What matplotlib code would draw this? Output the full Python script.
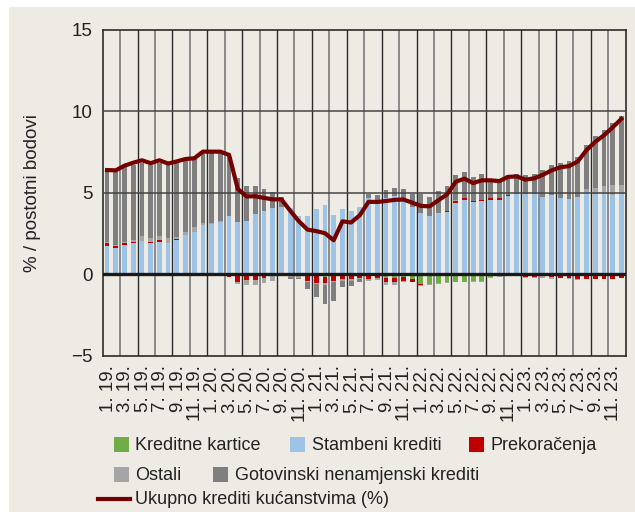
import numpy as np
import matplotlib
matplotlib.use("Agg")
import matplotlib.pyplot as plt
from matplotlib.patches import Rectangle
from matplotlib.lines import Line2D

plt.rcParams['font.family'] = ['Liberation Sans Narrow', 'Liberation Sans', 'DejaVu Sans']

# ---------------------------------------------------------
# data (monthly, 1.2019 - 12.2023), % / percentage points
# ---------------------------------------------------------
kartice = [0, 0.03, 0.1, 0.1, 0.05, 0.03, 0.06, 0.03, 0.05, 0.05, 0.06, 0.06, 0.08, 0.08, 0,
           -0.03, -0.03, -0.03, -0.03, 0, 0, 0, 0, -0.1, -0.12, -0.15, -0.1, -0.05, -0.05, 0,
           0, 0, -0.2, -0.2, -0.15, -0.3, -0.6, -0.57, -0.55, -0.5, -0.45, -0.45, -0.42, -0.42, -0.15,
           -0.1, -0.05, 0, 0.05, 0.08, 0.1, 0.1, 0.08, 0.08, 0.08, 0.05, 0.05, 0, 0, 0]

stambeni = [1.75, 1.61, 1.72, 1.8, 1.98, 1.87, 1.94, 1.92, 2.06, 2.37, 2.56, 2.97, 3.01, 3.14, 3.59,
            3.18, 3.3, 3.69, 3.87, 4.04, 4.16, 4.08, 3.55, 3.6, 4.02, 4.24, 3.67, 4.02, 3.89, 4.12,
            4.67, 4.59, 4.71, 4.8, 4.67, 4.12, 3.75, 3.55, 3.75, 3.85, 4.36, 4.59, 4.43, 4.49, 4.57,
            4.55, 4.8, 4.9, 4.89, 4.82, 4.67, 4.74, 4.63, 4.53, 4.69, 4.99, 4.85, 4.94, 4.88, 4.9]

prekoracenja = [0.2, 0.08, 0.08, 0.06, 0, 0.06, 0.08, 0, 0.06, 0, -0.05, 0, 0, 0, -0.14,
                -0.45, -0.35, -0.35, -0.2, -0.05, -0.07, -0.1, -0.12, -0.3, -0.4, -0.4, -0.3, -0.25, -0.25, -0.2,
                -0.3, -0.25, -0.3, -0.3, -0.25, -0.15, -0.07, -0.05, 0, 0.06, 0.16, 0.08, 0.1, 0.08, 0.12,
                0.14, 0.08, -0.12, -0.15, -0.15, -0.12, -0.15, -0.2, -0.25, -0.28, -0.3, -0.32, -0.3, -0.28, -0.22]

ostali = [0.05, 0.1, 0.08, 0.15, 0.29, 0.25, 0.29, 0.29, 0.1, 0.16, 0.31, 0.12, 0.06, 0.08, 0,
          -0.12, -0.25, -0.25, -0.3, -0.35, 0, -0.08, -0.1, -0.1, -0.1, -0.1, -0.1, -0.1, -0.1, -0.1,
          -0.1, -0.08, -0.15, -0.15, -0.1, -0.05, -0.05, -0.05, -0.05, -0.05, 0.05, -0.05, -0.05, -0.05, -0.05,
          -0.05, -0.05, 0, -0.1, -0.1, -0.12, -0.12, -0.05, -0.05, -0.05, 0.2, 0.4, 0.5, 0.63, 0.6]

gotovinski = [4.48, 4.51, 4.6, 4.61, 4.54, 4.51, 4.49, 4.48, 4.59, 4.41, 4.16, 4.25, 4.35, 4.2, 3.81,
              2.74, 2.09, 1.76, 1.36, 1.04, 0.57, -0.1, -0.1, -0.4, -0.8, -1.17, -1.12, -0.4, -0.3, -0.2,
              0.23, 0.25, 0.47, 0.5, 0.58, 0.82, 1.19, 1.22, 1.35, 1.5, 1.5, 1.6, 1.47, 1.56, 1.17,
              1.11, 1.2, 1.25, 1.13, 1.27, 1.64, 1.84, 2.11, 2.32, 2.46, 2.71, 3.22, 3.43, 3.77, 4.2]

ukupno = [6.4, 6.38, 6.67, 6.85, 7.0, 6.82, 7.0, 6.8, 6.93, 7.08, 7.12, 7.53, 7.53, 7.53, 7.33,
          5.24, 4.78, 4.79, 4.69, 4.6, 4.6, 3.91, 3.26, 2.74, 2.65, 2.52, 2.09, 3.25, 3.18, 3.63,
          4.45, 4.44, 4.5, 4.57, 4.59, 4.4, 4.2, 4.17, 4.54, 4.9, 5.68, 5.87, 5.6, 5.77, 5.77,
          5.72, 5.98, 6.01, 5.81, 5.89, 6.11, 6.38, 6.57, 6.64, 6.93, 7.62, 8.13, 8.53, 9.02, 9.54]

tick_labels = [f"{m}. {y}." for y in range(19, 24) for m in (1, 3, 5, 7, 9, 11)]

series = [
    ("Kreditne kartice", kartice, "#70ad47"),
    ("Stambeni krediti", stambeni, "#9dc3e6"),
    ("Prekoračenja", prekoracenja, "#c00000"),
    ("Ostali", ostali, "#a5a5a5"),
    ("Gotovinski nenamjenski krediti", gotovinski, "#7f7f7f"),
]
line_name = "Ukupno krediti kućanstvima (%)"
line_color = "#750000"

bg = "#eeebe5"

# ---------------------------------------------------------
# figure
# ---------------------------------------------------------
fig = plt.figure(figsize=(6.35, 5.12), dpi=100, facecolor="white")
fig.add_artist(Rectangle((9 / 635, 0), 1, (512 - 7) / 512, transform=fig.transFigure,
                         facecolor=bg, edgecolor="none", zorder=-10))

ax = fig.add_axes([102.7 / 635, 1 - 355.7 / 512, 523 / 635, 325.7 / 512])
ax.set_facecolor(bg)

n = len(ukupno)
x = np.arange(n) + 0.5

pos_bottom = np.zeros(n)
neg_bottom = np.zeros(n)
for name, vals, col in series:
    v = np.array(vals, dtype=float)
    pos = np.where(v > 0, v, 0)
    neg = np.where(v < 0, v, 0)
    ax.bar(x, pos, bottom=pos_bottom, width=0.55, color=col, linewidth=0, zorder=2)
    ax.bar(x, neg, bottom=neg_bottom, width=0.55, color=col, linewidth=0, zorder=2)
    pos_bottom += pos
    neg_bottom += neg

# vertical separators every two months
for k, xv in enumerate(range(2, n, 2)):
    if k % 2 == 0:
        ax.axvline(xv, color="#8a8a8a", lw=1.4, zorder=1)
    else:
        ax.axvline(xv, color="#2b2b2b", lw=1.0, zorder=1)

for yv in (5, 10):
    ax.axhline(yv, color="#444444", lw=1.1, zorder=3)
ax.axhline(0, color="#1a1a1a", lw=2.4, zorder=4)

ax.plot(x, ukupno, color=line_color, lw=3.0, zorder=5, solid_joinstyle="round")

ax.set_xlim(0, n)
ax.set_ylim(-5, 15)
ax.set_yticks([-5, 0, 5, 10, 15])
ax.set_xticks(x[::2] + 0.15)
ax.set_xticklabels(tick_labels, rotation=90, fontsize=13, color="#222222")
ax.tick_params(axis="both", length=0, labelsize=13.5, colors="#222222")
ax.tick_params(axis="x", pad=7)
ax.tick_params(axis="y", pad=7)
for s in ax.spines.values():
    s.set_color("#2b2b2b")
    s.set_linewidth(1.2)

ax.set_ylabel("% / postotni bodovi", fontsize=13.5, color="#222222", labelpad=22)

# ---------------------------------------------------------
# legend (manual layout, three rows)
# ---------------------------------------------------------
W, H = 635, 512
def patch(px, py, col):
    fig.add_artist(Rectangle((px / W, 1 - (py + 15) / H), 15 / W, 15 / H,
                             transform=fig.transFigure, facecolor=col, edgecolor="none"))

def label(px, py, txt):
    fig.text(px / W, 1 - py / H, txt, fontsize=13, color="#222222", va="center", ha="left")

legend_pos = [(114, 437, 135), (290, 437, 312), (469, 437, 490), (114, 467, 135), (213, 467, 235)]
for (name, vals, col), (px, py, tx) in zip(series, legend_pos):
    patch(px, py, col)
    label(tx, py + 8, name)

fig.add_artist(Line2D([98 / W, 130 / W], [1 - 499 / H, 1 - 499 / H], transform=fig.transFigure,
                      color=line_color, lw=3))
label(135, 499, line_name)

fig.savefig("out.png", dpi=100, facecolor=fig.get_facecolor())
